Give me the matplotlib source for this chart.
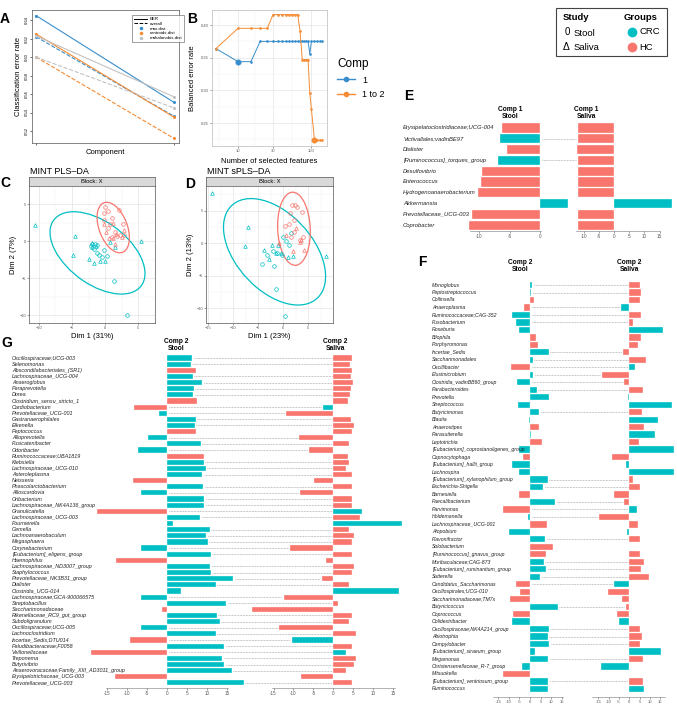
import numpy as np
import matplotlib.pyplot as plt
import matplotlib.transforms as mtransforms
from matplotlib.lines import Line2D
from matplotlib.patches import Ellipse, Rectangle

plt.rcParams['font.family'] = ['Liberation Sans', 'DejaVu Sans']

W, H = 677, 708
CRC_COL = '#00BFC4'
HC_COL = '#F8766D'
BLUE = '#388ECC'
ORANGE = '#F68B33'
GREY = '#C2C2C2'

# ---------------- data ----------------
# A: perf plot
COMPONENT = [1, 2]
BER_MAX = [0.645, 0.551]
OVR_MAX = [0.622, 0.536]
BER_CEN = [0.625, 0.535]
OVR_CEN = [0.600, 0.512]
BER_MAH = [0.623, 0.557]
OVR_MAH = [0.600, 0.545]

# B: tuning
KEEPX = [5, 10, 15, 20, 25, 30, 35, 40, 45, 50, 55, 60, 65, 70, 75, 80, 85, 90,
         95, 100, 110, 120, 130, 140]
BER_COMP1 = [0.364, 0.344, 0.344, 0.375, 0.375, 0.375, 0.375, 0.375, 0.375, 0.375,
             0.375, 0.375, 0.375, 0.375, 0.375, 0.375, 0.375, 0.375, 0.356, 0.375,
             0.375, 0.375, 0.375, 0.375]
BER_COMP12 = [0.364, 0.395, 0.395, 0.395, 0.395, 0.416, 0.416, 0.416, 0.416, 0.416,
              0.416, 0.416, 0.416, 0.391, 0.347, 0.347, 0.347, 0.347, 0.296, 0.271,
              0.224, 0.224, 0.224, 0.224]

# C: MINT PLS-DA scores
C_CRC_STOOL = [(-1.9, -0.4), (-1.5, -0.3), (-1.2, -0.5), (-0.2, -1.2), (-0.9, -1.9),
               (-0.4, -2.1), (0.3, -2.0), (-1.2, -1.5), (1.4, -5.3), (3.3, -10.0),
               (-2.2, -0.6), (-1.6, -1.0)]
C_CRC_SALIVA = [(-10.6, 2.2), (-4.6, 0.8), (-4.8, -1.9), (-2.4, -2.4), (-1.7, -2.9),
                (-0.8, -2.6), (0.0, -2.6), (-1.9, -0.8), (1.5, -0.8), (0.7, -0.1),
                (5.4, 0.0), (-2.0, -0.2), (-1.4, -0.6)]
C_HC_STOOL = [(0.0, 4.6), (-0.1, 3.8), (0.4, 4.1), (1.0, 3.2), (-0.2, 2.9), (2.1, 4.2),
              (2.7, 2.3), (0.5, 1.8), (1.5, 1.3), (1.0, 0.6), (1.8, 0.7), (2.2, 0.9),
              (2.9, 0.9), (0.8, 2.4)]
C_HC_SALIVA = [(-0.2, 2.3), (0.2, 1.3), (1.2, 0.4), (1.6, 1.0), (2.8, 1.5), (2.5, 0.6),
               (0.6, 0.4), (1.5, -0.4), (1.2, 2.5)]

# D: MINT sPLS-DA scores
D_CRC_STOOL = [(-4.3, -3.3), (-1.8, -3.5), (-1.5, -7.0), (0.4, -11.2), (-3.3, -1.8),
               (-2.0, -1.2), (-1.2, -1.5), (-0.3, -1.8), (-0.1, 1.0), (1.1, -0.3),
               (0.6, 0.3), (1.5, 1.5)]
D_CRC_SALIVA = [(-14.3, 7.7), (-7.1, 2.4), (-7.7, -0.4), (-3.9, -1.0), (-2.2, -0.3),
                (-1.0, -0.3), (0.9, -2.2), (1.9, -2.0), (8.6, -2.0), (-2.9, -2.4),
                (-1.5, -1.5), (-0.5, -1.6)]
D_HC_STOOL = [(1.7, 5.8), (2.3, 5.9), (2.7, 5.6), (3.7, 4.8), (1.4, 4.6), (0.4, 2.6),
              (2.1, 3.5), (1.1, 3.0), (2.1, 1.7), (3.4, 0.5), (3.9, 0.9), (1.5, 1.0)]
D_HC_SALIVA = [(-0.9, 0.0), (0.6, 1.2), (1.9, -1.3), (4.1, -1.0), (3.4, 0.2), (2.6, 2.3),
               (3.6, 0.4)]

# E: comp 1 loadings
E_LABELS = ['Erysipelatoclostridiaceae;UCG-004', 'Victivallales;vadinBE97', 'Dialister',
            '[Ruminococcus]_torques_group', 'Desulfovibrio', 'Enterococcus',
            'Hydrogenoanaerobacterium', 'Akkermansia', 'Prevotellaceae_UCG-003', 'Coprobacter']
E_STOOL = [-6.2, -6.6, -5.5, -6.9, -9.6, -9.7, -10.2, 4.6, -11.2, -11.6]
E_STOOL_GRP = 'HCHCHHHCHH'
E_SALIVA = [-12.0, -12.0, -12.2, -12.0, -12.0, -12.0, -12.0, 19.0, -12.0, -12.0]
E_SALIVA_GRP = 'HHHHHHHCHH'

# F: comp 2 loadings (saliva driven)
F_LABELS = ['Monoglobus', 'Peptostreptococcus', 'Collinsella', 'Anaeroplasma',
            'Ruminococcaceae;CAG-352', 'Fusobacterium', 'Roseburia', 'Bilophila',
            'Porphyromonas', 'Incertae_Sedis', 'Saccharimonadales', 'Oscillibacter',
            'Elusimicrobium', 'Clostridia_vadinBB60_group', 'Parabacteroides', 'Prevotella',
            'Streptococcus', 'Butyricimonas', 'Blautia', 'Anaerostipes', 'Parasutterella',
            'Leptotrichia', '[Eubacterium]_coprostanoligenes_group', 'Capnocytophaga',
            '[Eubacterium]_hallii_group', 'Lachnospira', '[Eubacterium]_xylanophilum_group',
            'Escherichia-Shigella', 'Barnesiella', 'Faecalibacterium', 'Parvimonas',
            'Holdemanella', 'Lachnospiraceae_UCG-001', 'Atopobium', 'Flavonifractor',
            'Solobacterium', '[Ruminococcus]_gnavus_group', 'Muribaculaceae;CAG-873',
            '[Eubacterium]_ruminantium_group', 'Sutterella', 'Candidatus_Saccharimonas',
            'Oscillospirales;UCG-010', 'Saccharimonadaceae;TM7x', 'Butyricicoccus',
            'Coprococcus', 'Colidextribacter', 'Oscillospiraceae;NK4A214_group', 'Abiotrophia',
            'Campylobacter', '[Eubacterium]_siraeum_group', 'Megamonas',
            'Christensenellaceae_R-7_group', 'Mitsuokella', '[Eubacterium]_ventriosum_group',
            'Ruminococcus']
F_STOOL = [1.0, 0.6, 1.7, -2.7, -8.7, -6.7, -5.4, 2.9, 4.0, 8.9, 1.3, -9.0, 1.6, -6.2,
           3.2, 8.9, -5.6, 4.4, -0.6, 4.1, 0.6, 5.7, -5.4, -3.5, -8.6, -5.4, 8.4, 6.3,
           -5.2, 12.0, -13.0, -0.8, 7.9, -9.8, 7.3, 10.8, 7.6, 6.5, 7.6, 4.9, -6.7, -4.6,
           -9.5, 13.2, -7.9, -8.7, 8.9, 8.4, 9.2, 2.5, 8.7, -3.8, -13.0, 8.7, 8.7]
F_STOOL_GRP = ('CCHHC' 'CCHHC' 'CHCCC' 'CCCCH' 'CHCHC' 'CCCHC'
               'HCHCC' 'HHCCC' 'HHHCH' 'CCCCC' 'CCHCC')
F_SALIVA = [5.4, 5.9, 5.4, -3.9, 5.7, 1.8, 16.4, 5.7, 4.2, -3.1, 8.3, 2.6, -13.3, -2.3,
            6.7, -0.6, 21.0, 6.2, 14.0, 7.2, 12.4, 4.9, 22.0, -8.5, -1.5, 22.0, 1.6, 5.0,
            -7.2, -2.4, 3.7, -14.5, 4.1, -1.3, 5.4, 0.0, 5.4, 7.0, 5.9, 9.8, -7.3, -10.4,
            -3.3, -1.6, -5.7, -4.9, 5.4, 6.2, 5.0, 15.6, 6.5, -13.8, 0.0, 6.7, 7.3]
F_SALIVA_GRP = ('HHHCH' 'HCHHH' 'HCHHH' 'CCHCH' 'CHCHC' 'CHHHH'
                'CHHCH' 'HHHHH' 'CHHHH' 'CHHHC' 'HCHHC')

# G: comp 2 loadings (stool driven)
G_LABELS = ['Oscillospiraceae;UCG-003', 'Selenomonas', 'Abscondilabacteriales_(SR1)',
            'Lachnospiraceae_UCG-004', 'Anaeroglobus', 'Paraprevotella', 'Dorea',
            'Clostridium_sensu_stricto_1', 'Cardiobacterium', 'Prevotellaceae_UCG-001',
            'Gastranaerophilales', 'Eikenella', 'Peptococcus', 'Alloprevotella',
            'Fusicatenibacter', 'Odoribacter', 'Ruminococcaceae;UBA1819', 'Klebsiella',
            'Lachnospiraceae_UCG-010', 'Asteroleplasma', 'Neisseria', 'Phascolarctobacterium',
            'Alloscardovia', 'Oribacterium', 'Lachnospiraceae_NK4A136_group', 'Granulicatella',
            'Lachnospiraceae_UCG-003', 'Fournierella', 'Gemella', 'Lachnoanaerobaculum',
            'Megasphaera', 'Corynebacterium', '[Eubacterium]_eligens_group', 'Haemophilus',
            'Lachnospiraceae_ND3007_group', 'Staphylococcus', 'Prevotellaceae_NK3B31_group',
            'Dialister', 'Clostridia_UCG-014', 'Lachnospiraceae;GCA-900066575',
            'Streptobacillus', 'Saccharimonadaceae', 'Rikenellaceae_RC9_gut_group',
            'Subdoligranulum', 'Oscillospiraceae;UCG-005', 'Lachnoclostridium',
            'Incertae_Sedis;DTU014', 'Paludibacteraceae;F0058', 'Veillonellaceae',
            'Treponema', 'Butyrivibrio', 'Anaerovoracaceae;Family_XIII_AD3011_group',
            'Erysipelotrichaceae_UCG-003', 'Prevotellaceae_UCG-003']
G_STOOL = [6.3, 6.0, 7.2, 6.5, 8.8, 6.7, 6.6, 7.4, -8.25, -2.0, 7.25, 6.9, 7.3, -4.75,
           8.5, -7.2, 9.4, 9.25, 9.75, 8.8, -8.6, 9.1, -6.5, 9.4, 9.4, -17.6, 8.4, 1.5,
           10.7, 9.8, 10.25, -6.4, 11.0, -12.8, 10.8, 11.0, 16.6, 12.2, 3.4, -6.6, 14.9,
           -1.2, 12.5, 13.2, -6.4, 12.2, -9.2, 14.4, -19.1, 13.9, 14.4, 16.2, -13.1, 19.2]
G_STOOL_GRP = ('CCHCC' 'CCHHC' 'CCHCC' 'CHCCC' 'HCCCC' 'HCCCC'
               'CCCHC' 'CCCCC' 'CHCCC' 'CHCHC' 'CCHC')
G_SALIVA = [4.6, 4.2, 4.8, 4.4, 5.0, 4.5, 4.3, 3.75, -2.5, -11.8, 4.4, 5.2, 4.8, -8.5,
            3.9, -6.1, 3.6, 3.9, 3.3, 4.75, -4.75, 4.75, -8.3, 4.6, 4.6, 7.25, 6.8, 17.3,
            4.0, 5.25, 4.6, -10.8, 4.6, -1.8, 5.25, 4.75, -2.9, 3.9, 16.4, -12.4, 1.1,
            -20.3, 4.8, 4.0, -13.6, 5.7, -10.5, 4.6, 3.1, 5.7, 5.2, 3.2, -8.0, 4.6]
G_SALIVA_GRP = ('HHHHH' 'HHHCH' 'HHHHH' 'HHHHH' 'HHHHH' 'CHCHH'
                'HHHHH' 'HHHCH' 'HHHHH' 'HCHCH' 'HHHH')

# ---------------- figure ----------------
fig = plt.figure(figsize=(W / 100, H / 100), dpi=100)
to_fig = fig.transFigure.inverted()


def add_ax(x0, y0, x1, y1):
    # pixel box (top-left origin) -> figure axes
    return fig.add_axes([x0 / W, 1 - y1 / H, (x1 - x0) / W, (y1 - y0) / H])


def ftext(x, y, s, **kw):
    return fig.text(x / W, 1 - y / H, s, **kw)


def letter(x, y, s):
    ftext(x, y, s, fontsize=10, fontweight='bold', va='center', ha='left')


# ---- A ----
axA = add_ax(32, 10, 179, 143)
for ber, ovr, col in [(BER_MAX, OVR_MAX, BLUE), (BER_CEN, OVR_CEN, ORANGE),
                      (BER_MAH, OVR_MAH, GREY)]:
    axA.plot(COMPONENT, ber, '-', color=col, lw=0.8, marker='o', ms=1.2)
    axA.plot(COMPONENT, ovr, '--', color=col, lw=0.8, marker='o', ms=1.2)
axA.set_xlim(1 - 4 / 138, 2 + 5 / 138)
axA.set_ylim(0.507, 0.651)
axA.set_xticks([1, 2])
axA.set_xticklabels(['', ''])
axA.set_yticks([0.52, 0.54, 0.56, 0.58, 0.60, 0.62, 0.64])
axA.set_yticklabels(['0.52', '0.54', '0.56', '0.58', '0.60', '0.62', '0.64'],
                    rotation=90, va='center')
axA.tick_params(labelsize=3, length=1.5, width=0.4, pad=1)
for sp in axA.spines.values():
    sp.set_linewidth(0.5)
    sp.set_color('#555555')
axA.set_ylabel('Classification error rate', fontsize=5.5, labelpad=2)
axA.set_xlabel('Component', fontsize=5.5, labelpad=2)
handles = [Line2D([], [], color='black', lw=0.7),
           Line2D([], [], color='black', lw=0.7, ls='--'),
           Line2D([], [], color=BLUE, lw=0, marker='o', ms=1.5),
           Line2D([], [], color=ORANGE, lw=0, marker='o', ms=1.5),
           Line2D([], [], color=GREY, lw=0, marker='o', ms=1.5)]
legA = fig.legend(handles, ['BER', 'overall', 'max.dist', 'centroids.dist', 'mahalanobis.dist'],
                  loc='upper left', bbox_to_anchor=(130 / W, 1 - 13 / H), fontsize=3.2,
                  frameon=True, fancybox=False, handlelength=3, borderpad=0.4,
                  labelspacing=0.15, handletextpad=0.6)
legA.get_frame().set_edgecolor('#555555')
legA.get_frame().set_linewidth(0.5)
letter(0, 19, 'A')

# ---- B ----
axB = add_ax(212, 10, 327, 146)
axB.set_xscale('log')
axB.set_xlim(4.42, 163)
axB.set_ylim(0.215, 0.423)
axB.set_xticks([10, 30, 100])
axB.set_xticklabels(['10', '30', '100'])
axB.set_xticks([5.48, 17.3, 54.8], minor=True)
axB.set_xticklabels(['', '', ''], minor=True)
axB.set_yticks([0.25, 0.30, 0.35, 0.40])
axB.set_yticklabels(['0.25', '0.30', '0.35', '0.40'])
axB.set_yticks([0.225, 0.275, 0.325, 0.375], minor=True)
axB.grid(True, which='major', color='#E5E5E5', lw=0.5)
axB.grid(True, which='minor', color='#F2F2F2', lw=0.35)
axB.set_axisbelow(True)
axB.tick_params(which='both', labelsize=3, length=1.5, width=0.4, pad=1, colors='#555555')
axB.tick_params(which='minor', length=0)
for sp in axB.spines.values():
    sp.set_linewidth(0.5)
    sp.set_color('#BBBBBB')
for vals, col in [(BER_COMP1, BLUE), (BER_COMP12, ORANGE)]:
    axB.plot(KEEPX, vals, '-', color=col, lw=0.7, marker='o', ms=0.9)
    i = int(np.argmin(vals))
    axB.plot(KEEPX[i], vals[i], 'o', color=col, ms=3.3)
axB.set_ylabel('Balanced error rate', fontsize=5.5, labelpad=3)
axB.set_xlabel('Number of selected features', fontsize=5.5, labelpad=3)
hB = [Line2D([], [], color=BLUE, lw=1, marker='o', ms=3),
      Line2D([], [], color=ORANGE, lw=1, marker='o', ms=3)]
legB = fig.legend(hB, ['1', '1 to 2'], title='Comp', loc='upper left',
                  bbox_to_anchor=(329 / W, 1 - 50 / H), fontsize=6.5, frameon=False,
                  handlelength=2, title_fontsize=8.5, labelspacing=0.6)
legB._legend_box.align = 'left'
letter(187, 19, 'B')


# ---- C / D ----
def conf_ellipse(ax, pts, color):
    pts = np.asarray(pts)
    mu = pts.mean(axis=0)
    vals, vecs = np.linalg.eigh(np.cov(pts.T))
    r = np.sqrt(5.991)
    ang = np.degrees(np.arctan2(vecs[1, 1], vecs[0, 1]))
    ax.add_patch(Ellipse(mu, 2 * r * np.sqrt(vals[1]), 2 * r * np.sqrt(vals[0]),
                         angle=ang, fill=False, ec=color, lw=0.9))


def scores_panel(box, title, xlab, ylab, xlim, ylim, xticks, yticks,
                 crc_st, crc_sa, hc_st, hc_sa):
    x0, y0, x1, y1 = box
    strip = add_ax(x0, y0 - 9, x1, y0)
    strip.set_facecolor('#D9D9D9')
    strip.set_xticks([])
    strip.set_yticks([])
    for sp in strip.spines.values():
        sp.set_linewidth(0.5)
        sp.set_color('#555555')
    strip.text(0.5, 0.5, 'Block: X', fontsize=4.2, ha='center', va='center',
               transform=strip.transAxes)
    ftext(x0 + 1, y0 - 14, title, fontsize=6.5, ha='left', va='center')
    ax = add_ax(*box)
    ax.set_xlim(*xlim)
    ax.set_ylim(*ylim)
    ax.set_xticks(xticks)
    ax.set_yticks(yticks)
    ax.set_xticks([t + 2.5 for t in xticks], minor=True)
    ax.set_yticks([t + 2.5 for t in yticks], minor=True)
    ax.grid(True, which='major', color='#E3E3E3', lw=0.5)
    ax.grid(True, which='minor', color='#F0F0F0', lw=0.35)
    ax.set_axisbelow(True)
    ax.tick_params(which='both', labelsize=2.8, length=1.2, width=0.4, pad=1,
                   colors='#555555')
    ax.tick_params(which='minor', length=0)
    for sp in ax.spines.values():
        sp.set_linewidth(0.5)
        sp.set_color('#555555')
    for pts, mk, col in [(crc_st, 'o', CRC_COL), (crc_sa, '^', CRC_COL),
                         (hc_st, 'o', HC_COL), (hc_sa, '^', HC_COL)]:
        p = np.asarray(pts)
        ax.plot(p[:, 0], p[:, 1], ls='none', marker=mk, ms=2.6, mfc='none',
                mec=col, mew=0.5)
    conf_ellipse(ax, crc_st + crc_sa, CRC_COL)
    conf_ellipse(ax, hc_st + hc_sa, HC_COL)
    ax.set_xlabel(xlab, fontsize=5.5, labelpad=2)
    ax.set_ylabel(ylab, fontsize=5.5, labelpad=2)
    return ax


scores_panel((29, 186, 155, 323), 'MINT PLS–DA', 'Dim 1 (31%)', 'Dim 2 (7%)',
             (-11.45, 6.81), (-11.03, 6.54), [-10, -5, 0, 5], [-10, -5, 0, 5],
             C_CRC_STOOL, C_CRC_SALIVA, C_HC_STOOL, C_HC_SALIVA)
scores_panel((206, 186, 333, 323), 'MINT sPLS–DA', 'Dim 1 (23%)', 'Dim 2 (13%)',
             (-15.4, 10.0), (-12.3, 8.77), [-15, -10, -5, 0, 5], [-10, -5, 0, 5],
             D_CRC_STOOL, D_CRC_SALIVA, D_HC_STOOL, D_HC_SALIVA)
letter(0, 183, 'C')
letter(185, 184, 'D')

# ---- study / group legend ----
fig.add_artist(Rectangle((556 / W, 1 - 56 / H), 111 / W, 48 / H, transform=fig.transFigure,
                         fill=False, ec='#444444', lw=0.8))
ftext(563, 18, 'Study', fontsize=6.8, fontweight='bold', va='center')
ftext(624, 18, 'Groups', fontsize=6.8, fontweight='bold', va='center')
ftext(565, 32, '0', fontsize=7, va='center')
ftext(574, 33, 'Stool', fontsize=6.8, va='center')
ftext(563, 47, 'Δ', fontsize=7.5, va='center')
ftext(574, 48, 'Saliva', fontsize=6.8, va='center')
for yy, col, name in [(32, CRC_COL, 'CRC'), (47, HC_COL, 'HC')]:
    fig.add_artist(Line2D([632 / W], [1 - yy / H], transform=fig.transFigure, marker='o',
                          ms=6, color=col, ls='none'))
    ftext(639, yy, name, fontsize=6.8, va='center')


# ---- loadings panels ----
def loadings(labels, s_val, s_grp, v_val, v_grp, s_box, v_box, s_lim, v_lim, y_lim,
             s_ticks, v_ticks, label_x, label_fs, headers, tick_fs=3.3):
    axs = add_ax(*s_box)
    axv = add_ax(*v_box)
    y = np.arange(len(labels))
    for ax, vals, grp, lim, ticks in [(axs, s_val, s_grp, s_lim, s_ticks),
                                       (axv, v_val, v_grp, v_lim, v_ticks)]:
        cols = [CRC_COL if g == 'C' else HC_COL for g in grp]
        ax.barh(y, vals, height=0.84, color=cols, edgecolor='white', lw=0.25,
                clip_on=False, zorder=3)
        ax.set_xlim(*lim)
        ax.set_ylim(*y_lim)
        ax.set_yticks([])
        ax.set_xticks(ticks)
        ax.set_xticklabels([str(t) for t in ticks])
        ax.patch.set_visible(False)
        for side in ['left', 'right', 'top']:
            ax.spines[side].set_visible(False)
        ax.spines['bottom'].set_linewidth(0.4)
        ax.spines['bottom'].set_color('#777777')
        ax.tick_params(axis='x', labelsize=tick_fs, length=1.3, width=0.4, pad=1,
                       colors='#555555')
    tr = mtransforms.blended_transform_factory(fig.transFigure, axs.transData)
    for i, lab in enumerate(labels):
        axs.text(label_x / W, i, lab, transform=tr, fontsize=label_fs, style='italic',
                 ha='left', va='center', color='#222222')
    # dotted guides between the two study columns where the group differs
    for i in range(len(labels)):
        if s_grp[i] != v_grp[i]:
            pa = to_fig.transform(axs.transData.transform((max(s_val[i], 0), i)))
            pb = to_fig.transform(axv.transData.transform((min(v_val[i], 0), i)))
            fig.add_artist(Line2D([pa[0] + 1.5 / W, pb[0] - 1.5 / W], [pa[1], pb[1]],
                                  transform=fig.transFigure, color='#8C8C8C', lw=0.5,
                                  ls=(0, (1, 1.2)), zorder=1))
    for (hx, hy, txt) in headers:
        ftext(hx, hy, txt, fontsize=4.8, fontweight='bold', ha='center', va='center',
              linespacing=1.15)


loadings(E_LABELS, E_STOOL, E_STOOL_GRP, E_SALIVA, E_SALIVA_GRP,
         (470, 122.6, 541, 231), (576, 122.6, 660, 231),
         (-11.5, 0.16), (-12.5, 15.1), (9.54, -0.5),
         [-10, -5, 0], [-10, -5, 0, 5, 10, 15], 403, 4.2,
         [(510, 113, 'Comp 1\nStool'), (586, 113, 'Comp 1\nSaliva')])
loadings(F_LABELS, F_STOOL, F_STOOL_GRP, F_SALIVA, F_SALIVA_GRP,
         (493, 281.3, 563, 697), (592, 281.3, 665, 697),
         (-17.5, 15.6), (-18.1, 17.4), (55.08, -0.5),
         [-15, -10, -5, 0, 5, 10, 15], [-15, -10, -5, 0, 5, 10, 15], 432, 3.7,
         [(520, 266, 'Comp 2\nStool'), (629, 266, 'Comp 2\nSaliva')], tick_fs=3.0)
loadings(G_LABELS, G_STOOL, G_STOOL_GRP, G_SALIVA, G_SALIVA_GRP,
         (106, 355, 228, 688), (271.6, 355, 395, 688),
         (-15.3, 15.3), (-15.5, 15.5), (53.83, -0.5),
         [-15, -10, -5, 0, 5, 10, 15], [-15, -10, -5, 0, 5, 10, 15], 12, 3.9,
         [(176, 345, 'Comp 2\nStool'), (335, 345, 'Comp 2\nSaliva')])
letter(404, 96, 'E')
letter(418, 262, 'F')
letter(1, 343, 'G')

fig.savefig('out.png', dpi=100)
